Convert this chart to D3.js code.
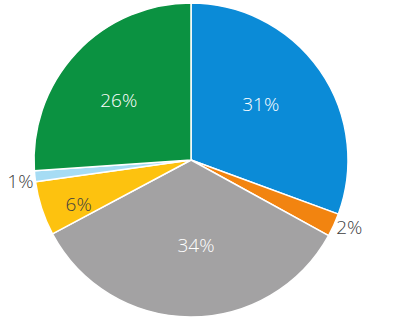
<!DOCTYPE html>
<html>
<head>
<meta charset="utf-8">
<script src="https://cdn.jsdelivr.net/npm/d3@7"></script>
<style>
  html, body { margin: 0; padding: 0; background: #fff; }
  svg { display: block; }
</style>
</head>
<body>
<div id="chart"></div>
<script>
const categories = ['A', 'B', 'C', 'D', 'E', 'F'];
const values = [30.6, 2.4, 34.2, 5.6, 1.1, 26.1];
const colors = ['#0b8bd7', '#f28410', '#a3a2a3', '#fdc20f', '#a6dcf4', '#0b9241'];
const labelOutside = [false, true, false, false, true, false];

const width = 412;
const height = 323;
const cx = 191;
const cy = 160;
const radius = 157;

const svg = d3.select('#chart').append('svg')
  .attr('width', width)
  .attr('height', height);

const g = svg.append('g').attr('transform', `translate(${cx},${cy})`);

const data = categories.map((c, i) => ({ cat: c, value: values[i], i }));

const pie = d3.pie().sort(null).value(d => d.value);
const arc = d3.arc().innerRadius(0).outerRadius(radius);
const arcs = pie(data);

g.selectAll('path.slice')
  .data(arcs)
  .enter().append('path')
  .attr('class', 'slice')
  .attr('d', arc)
  .attr('fill', d => colors[d.data.i])
  .attr('stroke', '#fff')
  .attr('stroke-width', 1.5)
  .attr('stroke-linejoin', 'round');

// label distance: area centroid for big slices, further out for small inside ones
// labels sit a touch counter-clockwise of the mid angle, like the original
function labelPos(d) {
  const outside = labelOutside[d.data.i];
  const mid = (d.startAngle + d.endAngle) / 2 + (outside ? -0.025 : -0.065);
  const theta = d.endAngle - d.startAngle;
  let r;
  if (outside) r = radius + 15;
  else if (theta < 0.6) r = radius * 0.77;
  else r = (2 * radius * Math.sin(theta / 2)) / (1.5 * theta);
  return [Math.sin(mid) * r, -Math.cos(mid) * r];
}

g.selectAll('text.label')
  .data(arcs)
  .enter().append('text')
  .attr('class', 'label')
  .attr('x', d => labelPos(d)[0])
  .attr('y', d => labelPos(d)[1])
  .attr('dy', '0.33em')
  .attr('text-anchor', 'middle')
  .attr('font-family', '"Open Sans", "Noto Sans", sans-serif')
  .attr('font-weight', 300)
  .attr('font-size', '19px')
  .attr('fill', d => {
    if (labelOutside[d.data.i]) return '#404040';
    if (d.data.i === 3) return '#404040';
    return '#fff';
  })
  .text(d => Math.round(d.data.value) + '%');
</script>
</body>
</html>
